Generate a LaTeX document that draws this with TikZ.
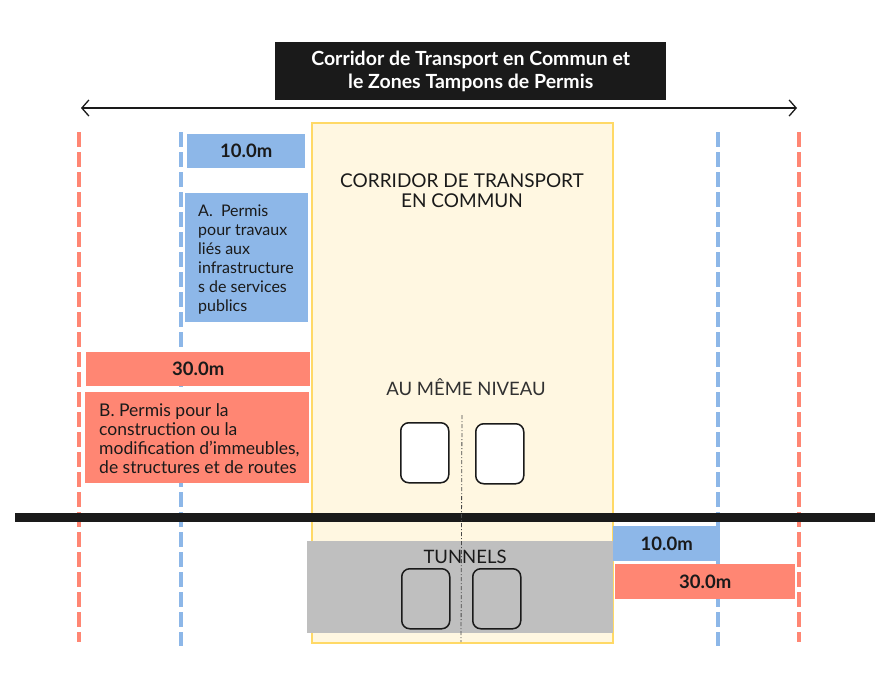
\documentclass[tikz,border=0pt]{standalone}
\usepackage{fontspec}
\setmainfont{Lato}
\usetikzlibrary{arrows.meta}
\definecolor{tblack}{HTML}{1A1A1A}
\definecolor{tblue}{HTML}{8DB7E8}
\definecolor{tred}{HTML}{FF8673}
\definecolor{tyellowfill}{HTML}{FFF7E1}
\definecolor{tyellowline}{HTML}{FFD966}
\definecolor{tgray}{HTML}{BFBFBF}
\tikzset{
  px/.style={x=1pt,y=-1pt},
  zoneline/.style={line width=4pt, dash pattern=on 15pt off 5pt},
  bluebox/.style={fill=tblue, draw=none, inner sep=0pt, anchor=north west},
  redbox/.style={fill=tred, draw=none, inner sep=0pt, anchor=north west},
  measure/.style={font=\fontsize{18.5}{20}\selectfont\bfseries, text=tblack},
  door/.style={draw=tblack, line width=1.5pt, rounded corners=8pt, minimum width=48pt, minimum height=60pt, inner sep=0pt, anchor=north west},
  bodytext/.style={text=tblack, align=left, anchor=north west, inner sep=0pt},
}
\begin{document}
\begin{tikzpicture}[px]
\useasboundingbox (0,0) rectangle (888,699);
\fill[white] (0,0) rectangle (888,699);
% dashed zone lines
\coordinate (rl1) at (79,132); \coordinate (rl2) at (79,642);
\coordinate (bl1) at (181,132); \coordinate (bl2) at (181,646);
\coordinate (br1) at (718,132); \coordinate (br2) at (718,646);
\coordinate (rr1) at (799,132); \coordinate (rr2) at (799,642);
\draw[zoneline, tred] (rl1) -- (rl2);
\draw[zoneline, tred] (rr1) -- (rr2);
\draw[zoneline, tblue] (bl1) -- (bl2);
\draw[zoneline, tblue] (br1) -- (br2);
% corridor
\node[fill=tyellowfill, draw=tyellowline, line width=2pt, minimum width=301pt, minimum height=520pt, inner sep=0pt, anchor=north west] (corr) at (310.5,121.5) {};
\node[font=\fontsize{19}{20}\selectfont, text=tblack, align=center] (corrtitle) at (462,191) {CORRIDOR DE TRANSPORT\\EN COMMUN};
\node[font=\fontsize{18.5}{20}\selectfont, text=tblack!90] (level) at (466,387) {AU MÊME NIVEAU};
% title
\node[fill=tblack, minimum width=391pt, minimum height=58pt, inner sep=0pt, anchor=north west] (titlebox) at (275,42) {};
\node[font=\fontsize{19.5}{23}\selectfont\bfseries, text=white, align=center] (title) at (titlebox.center) {Corridor de Transport en Commun et\\le Zones Tampons de Permis};
% double arrow
\coordinate (al) at (81,108); \coordinate (ar) at (797,108);
\draw[line width=1.5pt, tblack, {Straight Barb[length=7pt,width=16pt,line width=1.3pt]}-{Straight Barb[length=7pt,width=16pt,line width=1.3pt]}] (al) -- (ar);
% left boxes
\node[bluebox, minimum width=118pt, minimum height=34pt] (b10) at (187,134) {};
\node[measure] at (b10.center) {10.0m};
\node[bluebox, minimum width=123pt, minimum height=129pt] (bA) at (185,193) {};
\node[bodytext, font=\fontsize{16}{19}\selectfont] (tA) at (198,205) {A.\ \ Permis\\pour travaux\\liés aux\\infrastructure\\s de services\\publics};
\node[redbox, minimum width=224pt, minimum height=34pt] (r30) at (86,352) {};
\node[measure] at (r30.center) {30.0m};
\node[redbox, minimum width=224pt, minimum height=91pt] (rB) at (85,392) {};
\node[bodytext, font=\fontsize{17.5}{19}\selectfont] (tB) at (99,403) {B. Permis pour la\\construction ou la\\modification d’immeubles,\\de structures et de routes};
% doors at grade
\node[door, fill=white] (d1) at (400,422) {};
\node[door, fill=white] (d2) at (475,423) {};
% ground bar
\coordinate (g1) at (15,517.5); \coordinate (g2) at (875,517.5);
\draw[line width=9pt, tblack] (g1) -- (g2);
% tunnel
\node[fill=tgray, minimum width=306pt, minimum height=92pt, inner sep=0pt, anchor=north west] (tun) at (307,541) {};
\node[font=\fontsize{18.5}{20}\selectfont, text=tblack] (tuntext) at (465,557) {TUNNELS};
\node[door] (d3) at (401,568) {};
\node[door] (d4) at (472,568) {};
% centre line
\coordinate (c1) at (462,415); \coordinate (c2) at (461,642);
\draw[line width=0.8pt, tblack!80, dash pattern=on 4pt off 2pt on 1pt off 2pt] (c1) -- (c2);
% right boxes
\node[bluebox, minimum width=107pt, minimum height=35pt] (b10r) at (613,526) {};
\node[measure] at (b10r.center) {10.0m};
\node[redbox, minimum width=180pt, minimum height=35pt] (r30r) at (615,564) {};
\node[measure] at (r30r.center) {30.0m};
\end{tikzpicture}
\end{document}
